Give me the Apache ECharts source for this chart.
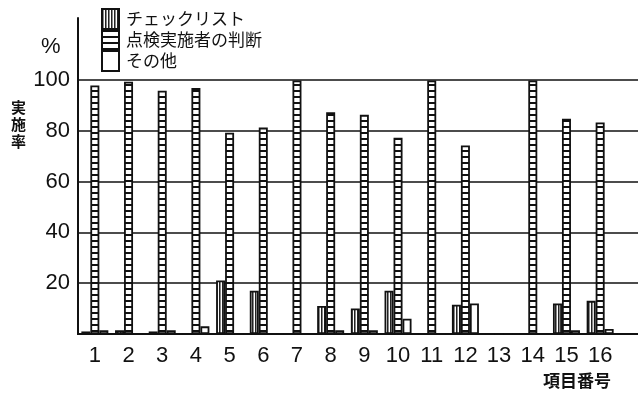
<!DOCTYPE html>
<html lang="ja">
<head>
    <meta charset="UTF-8">
    <title>実施率</title>
    <script type="text/javascript" src="https://cdn.jsdelivr.net/npm/echarts@6/dist/echarts.min.js"></script>
</head>
<body style="margin:0">
<div id="main" style="width:638px;height:398px"></div>
<script type="text/javascript">
    // 項目番号
    var categories = ['1','2','3','4','5','6','7','8','9','10','11','12','13','14','15','16'];
    // %
    var checklist = [1, 1.5, 1, 0, 21, 17, 0, 11, 10, 17, 0, 11.5, 0, 0, 12, 13];
    var judgment  = [97.5, 99, 95.5, 96.5, 79, 81, 99.5, 87, 86, 77, 99.5, 74, 0, 99.5, 84.5, 83];
    var other     = [1.5, 0, 1.5, 3, 0, 0, 0, 1.5, 1.5, 6, 0, 12, 0, 0, 1.5, 2];
    var yTicks = [0, 20, 40, 60, 80, 100];

    // hatch patterns
    function vLines() {
        var c = document.createElement('canvas');
        c.width = 3; c.height = 3;
        var g = c.getContext('2d');
        g.fillStyle = '#fff'; g.fillRect(0, 0, 3, 3);
        g.fillStyle = '#222'; g.fillRect(0, 0, 1, 3);
        g.fillStyle = '#888'; g.fillRect(1, 0, 1, 3);
        return c;
    }
    function rungs() {
        var c = document.createElement('canvas');
        c.width = 10; c.height = 6;
        var g = c.getContext('2d');
        g.fillStyle = '#fff'; g.fillRect(0, 0, 10, 6);
        g.fillStyle = '#111'; g.fillRect(0, 0, 10, 2);
        return c;
    }

    var chart = echarts.init(document.getElementById('main'));
    var font = 'Liberation Sans, DejaVu Sans, sans-serif';
    var jp = 'Noto Sans CJK JP';

    function barStyle(color) {
        return { color: color, borderColor: '#111', borderWidth: 1.8 };
    }

    chart.setOption({
        animation: false,
        backgroundColor: '#fff',
        legend: {
            orient: 'vertical', left: 101, top: 8, padding: 0,
            itemGap: -1, itemWidth: 17, itemHeight: 20,
            icon: 'rect',
            textStyle: { fontFamily: jp, fontSize: 17, lineHeight: 19, color: '#111', padding: [0, 0, 0, 2] },
            data: ['チェックリスト', '点検実施者の判断', 'その他']
        },
        graphic: [
            { type: 'text', left: 41, top: 36, style: { text: '%', font: '22px ' + font, fill: '#111' } },
            { type: 'text', left: 11, top: 99, style: { text: '実\n施\n率', font: 'bold 15px ' + jp, fill: '#111', lineHeight: 17 } },
            { type: 'text', left: 543, top: 372, style: { text: '項目番号', font: 'bold 17px ' + jp, fill: '#111' } }
        ],
        grid: [
            { left: 78, right: 21, top: 18, bottom: 64 },
            { left: 78, right: 0, top: 80, bottom: 64 }
        ],
        xAxis: [
            {
                type: 'category', gridIndex: 0, data: categories,
                axisLine: { show: true, lineStyle: { color: '#111', width: 2 } },
                axisTick: { show: false },
                axisLabel: { fontFamily: font, fontSize: 22, color: '#111', margin: 11 }
            },
            {
                type: 'value', gridIndex: 1, min: 0, max: 1,
                axisLine: { show: true, lineStyle: { color: '#111', width: 2 } },
                axisTick: { show: false }, axisLabel: { show: false }, splitLine: { show: false }
            }
        ],
        yAxis: [
            {
                type: 'value', gridIndex: 0, min: 0, max: 124,
                axisLine: { show: true, lineStyle: { color: '#111', width: 2 } },
                axisTick: { show: false }, axisLabel: { show: false }, splitLine: { show: false }
            },
            {
                type: 'value', gridIndex: 1, min: yTicks[0], max: yTicks[yTicks.length - 1], interval: 20,
                axisLine: { show: false }, axisTick: { show: false },
                axisLabel: {
                    fontFamily: font, fontSize: 22, color: '#111', margin: 8,
                    formatter: function (v) { return v === 0 ? '' : v; }
                },
                splitLine: { lineStyle: { color: '#111', width: 1.5 } }
            }
        ],
        series: [
            {
                name: 'チェックリスト', type: 'bar', xAxisIndex: 0, yAxisIndex: 0,
                data: checklist, barWidth: 9, barGap: '0%',
                itemStyle: barStyle({ image: vLines(), repeat: 'repeat' })
            },
            {
                name: '点検実施者の判断', type: 'bar', xAxisIndex: 0, yAxisIndex: 0,
                data: judgment, barWidth: 9, barGap: '0%',
                itemStyle: barStyle({ image: rungs(), repeat: 'repeat' })
            },
            {
                name: 'その他', type: 'bar', xAxisIndex: 0, yAxisIndex: 0,
                data: other, barWidth: 9, barGap: '0%',
                itemStyle: barStyle('#fff')
            }
        ]
    });
</script>
</body>
</html>
